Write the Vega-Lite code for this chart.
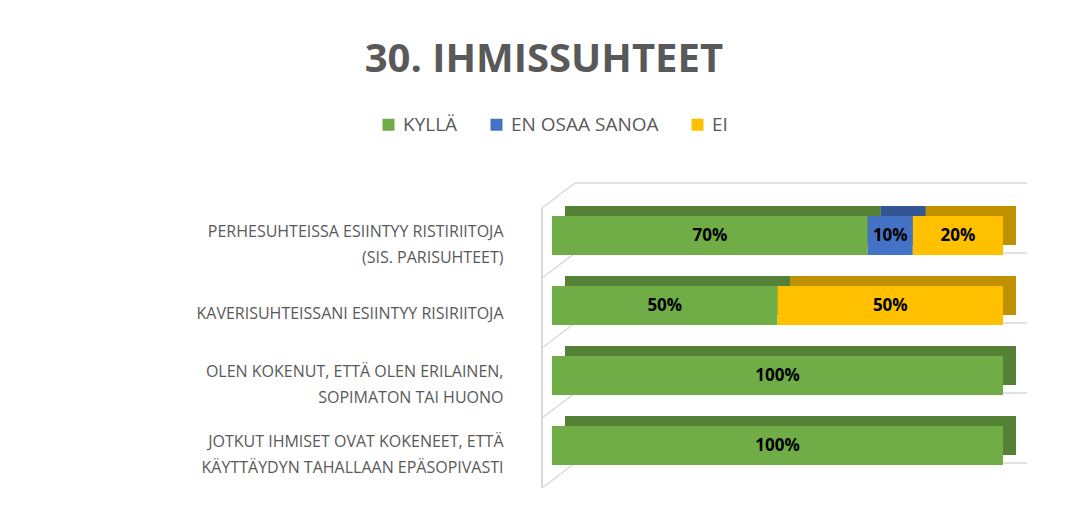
{
  "$schema": "https://vega.github.io/schema/vega-lite/v6.json",
  "width": 451,
  "height": 280,
  "autosize": {"type": "none"},
  "padding": {"left": 552, "top": 208, "right": 64, "bottom": 26},
  "background": "white",
  "title": {
    "text": "30. IHMISSUHTEET",
    "font": "Open Sans",
    "fontSize": 40,
    "fontWeight": "bold",
    "color": "#595959",
    "anchor": "middle",
    "frame": "bounds",
    "offset": 35,
    "dx": -68
  },
  "config": {
    "view": {"stroke": null},
    "axisY": {
      "title": null, "domain": false, "ticks": false, "grid": false,
      "labelFont": "Open Sans", "labelFontSize": 16, "labelColor": "#595959",
      "labelLineHeight": 26, "labelPadding": 49, "labelLimit": 700,
      "labelAlign": "right", "labelBaseline": "middle"
    }
  },
  "data": {
    "values": [
      {"kysymys": "PERHESUHTEISSA ESIINTYY RISTIRIITOJA\n(SIS. PARISUHTEET)", "vastaus": "KYLLÄ", "i": 1, "osuus": 0.7},
      {"kysymys": "PERHESUHTEISSA ESIINTYY RISTIRIITOJA\n(SIS. PARISUHTEET)", "vastaus": "EN OSAA SANOA", "i": 2, "osuus": 0.1},
      {"kysymys": "PERHESUHTEISSA ESIINTYY RISTIRIITOJA\n(SIS. PARISUHTEET)", "vastaus": "EI", "i": 3, "osuus": 0.2},
      {"kysymys": "KAVERISUHTEISSANI ESIINTYY RISIRIITOJA", "vastaus": "KYLLÄ", "i": 1, "osuus": 0.5},
      {"kysymys": "KAVERISUHTEISSANI ESIINTYY RISIRIITOJA", "vastaus": "EI", "i": 3, "osuus": 0.5},
      {"kysymys": "OLEN KOKENUT, ETTÄ OLEN ERILAINEN,\nSOPIMATON TAI HUONO", "vastaus": "KYLLÄ", "i": 1, "osuus": 1.0},
      {"kysymys": "JOTKUT IHMISET OVAT KOKENEET, ETTÄ\nKÄYTTÄYDYN TAHALLAAN EPÄSOPIVASTI", "vastaus": "KYLLÄ", "i": 1, "osuus": 1.0}
    ]
  },
  "layer": [
    {
      "transform": [{"filter": {"field": "vastaus", "equal": "KYLLÄ"}}],
      "mark": {"type": "rule", "color": "#d9d9d9", "strokeWidth": 1.5, "xOffset": 23, "x2Offset": 24, "yOffset": -25},
      "encoding": {
        "x": {"datum": 0, "type": "quantitative", "scale": {"domain": [0, 1]}, "axis": null},
        "x2": {"datum": 1},
        "y": {"field": "kysymys", "type": "nominal", "sort": null, "bandPosition": 0, "scale": {"paddingInner": 0, "paddingOuter": 0}, "axis": {"labelExpr": "split(datum.value, '\\n')", "labelOffset": {"condition": {"test": "indexof(datum.value, '\\n') >= 0", "value": -11}, "value": 1}}}
      }
    },
    {
      "transform": [{"filter": {"field": "kysymys", "equal": "JOTKUT IHMISET OVAT KOKENEET, ETTÄ\nKÄYTTÄYDYN TAHALLAAN EPÄSOPIVASTI"}}],
      "mark": {"type": "rule", "color": "#d9d9d9", "strokeWidth": 1.5, "xOffset": 23, "x2Offset": 24, "yOffset": -25},
      "encoding": {
        "x": {"datum": 0, "type": "quantitative", "scale": {"domain": [0, 1]}, "axis": null},
        "x2": {"datum": 1},
        "y": {"field": "kysymys", "type": "nominal", "sort": null, "bandPosition": 1, "scale": {"paddingInner": 0, "paddingOuter": 0}, "axis": {"labelExpr": "split(datum.value, '\\n')", "labelOffset": {"condition": {"test": "indexof(datum.value, '\\n') >= 0", "value": -11}, "value": 1}}}
      }
    },
    {
      "transform": [{"filter": {"field": "vastaus", "equal": "KYLLÄ"}}],
      "mark": {"type": "rule", "color": "#d9d9d9", "strokeWidth": 1.5, "xOffset": -10, "x2Offset": 23, "y2Offset": -25},
      "encoding": {
        "x": {"datum": 0, "type": "quantitative", "scale": {"domain": [0, 1]}, "axis": null},
        "x2": {"datum": 0},
        "y": {"field": "kysymys", "type": "nominal", "sort": null, "bandPosition": 0, "scale": {"paddingInner": 0, "paddingOuter": 0}, "axis": {"labelExpr": "split(datum.value, '\\n')", "labelOffset": {"condition": {"test": "indexof(datum.value, '\\n') >= 0", "value": -11}, "value": 1}}},
        "y2": {"field": "kysymys", "bandPosition": 0}
      }
    },
    {
      "transform": [{"filter": {"field": "kysymys", "equal": "JOTKUT IHMISET OVAT KOKENEET, ETTÄ\nKÄYTTÄYDYN TAHALLAAN EPÄSOPIVASTI"}}],
      "mark": {"type": "rule", "color": "#d9d9d9", "strokeWidth": 1.5, "xOffset": -10, "x2Offset": 23, "y2Offset": -25},
      "encoding": {
        "x": {"datum": 0, "type": "quantitative", "scale": {"domain": [0, 1]}, "axis": null},
        "x2": {"datum": 0},
        "y": {"field": "kysymys", "type": "nominal", "sort": null, "bandPosition": 1, "scale": {"paddingInner": 0, "paddingOuter": 0}, "axis": {"labelExpr": "split(datum.value, '\\n')", "labelOffset": {"condition": {"test": "indexof(datum.value, '\\n') >= 0", "value": -11}, "value": 1}}},
        "y2": {"field": "kysymys", "bandPosition": 1}
      }
    },
    {
      "mark": {"type": "rule", "color": "#d9d9d9", "strokeWidth": 1.5, "xOffset": -10},
      "encoding": {
        "x": {"datum": 0, "type": "quantitative", "scale": {"domain": [0, 1]}, "axis": null}
      }
    },
    {
      "mark": {"type": "bar", "height": {"band": 0.557}, "yOffset": -17.5, "xOffset": 13},
      "encoding": {
        "y": {"field": "kysymys", "type": "nominal", "sort": null, "scale": {"paddingInner": 0, "paddingOuter": 0}, "axis": {"labelExpr": "split(datum.value, '\\n')", "labelOffset": {"condition": {"test": "indexof(datum.value, '\\n') >= 0", "value": -11}, "value": 1}}},
        "x": {"field": "osuus", "type": "quantitative", "stack": "zero", "scale": {"domain": [0, 1]}, "axis": null},
        "order": {"field": "i", "type": "quantitative"},
        "color": {
          "field": "vastaus", "type": "nominal",
          "scale": {"domain": ["KYLLÄ", "EN OSAA SANOA", "EI"], "range": ["#70AD47", "#4472C4", "#FFC000"]},
          "legend": {
            "title": null, "orient": "none", "direction": "horizontal",
            "legendX": -173, "legendY": -93,
            "symbolType": "square", "symbolSize": 144, "symbolStrokeWidth": 0,
            "labelFont": "Open Sans", "labelFontSize": 19, "labelColor": "#595959",
            "labelOffset": 5, "columnPadding": 29
          }
        }
      }
    },
    {
      "mark": {"type": "bar", "height": {"band": 0.557}, "yOffset": -17.5, "xOffset": 13, "color": "#000000", "opacity": 0.25},
      "encoding": {
        "y": {"field": "kysymys", "type": "nominal", "sort": null, "scale": {"paddingInner": 0, "paddingOuter": 0}, "axis": {"labelExpr": "split(datum.value, '\\n')", "labelOffset": {"condition": {"test": "indexof(datum.value, '\\n') >= 0", "value": -11}, "value": 1}}},
        "x": {"field": "osuus", "type": "quantitative", "stack": "zero", "scale": {"domain": [0, 1]}, "axis": null},
        "order": {"field": "i", "type": "quantitative"}
      }
    },
    {
      "mark": {"type": "bar", "height": {"band": 0.557}, "yOffset": -7.5},
      "encoding": {
        "y": {"field": "kysymys", "type": "nominal", "sort": null, "scale": {"paddingInner": 0, "paddingOuter": 0}, "axis": {"labelExpr": "split(datum.value, '\\n')", "labelOffset": {"condition": {"test": "indexof(datum.value, '\\n') >= 0", "value": -11}, "value": 1}}},
        "x": {"field": "osuus", "type": "quantitative", "stack": "zero", "scale": {"domain": [0, 1]}, "axis": null},
        "order": {"field": "i", "type": "quantitative"},
        "color": {
          "field": "vastaus", "type": "nominal",
          "scale": {"domain": ["KYLLÄ", "EN OSAA SANOA", "EI"], "range": ["#70AD47", "#4472C4", "#FFC000"]},
          "legend": {
            "title": null, "orient": "none", "direction": "horizontal",
            "legendX": -173, "legendY": -93,
            "symbolType": "square", "symbolSize": 144, "symbolStrokeWidth": 0,
            "labelFont": "Open Sans", "labelFontSize": 19, "labelColor": "#595959",
            "labelOffset": 5, "columnPadding": 29
          }
        }
      }
    },
    {
      "mark": {"type": "text", "font": "Open Sans", "fontSize": 17, "fontWeight": "bold", "color": "#000000", "yOffset": -7, "baseline": "middle"},
      "encoding": {
        "y": {"field": "kysymys", "type": "nominal", "sort": null, "scale": {"paddingInner": 0, "paddingOuter": 0}, "axis": {"labelExpr": "split(datum.value, '\\n')", "labelOffset": {"condition": {"test": "indexof(datum.value, '\\n') >= 0", "value": -11}, "value": 1}}},
        "x": {"field": "osuus", "type": "quantitative", "stack": "zero", "bandPosition": 0.5, "scale": {"domain": [0, 1]}, "axis": null},
        "order": {"field": "i", "type": "quantitative"},
        "text": {"field": "osuus", "type": "quantitative", "format": ".0%"}
      }
    }
  ]
}
